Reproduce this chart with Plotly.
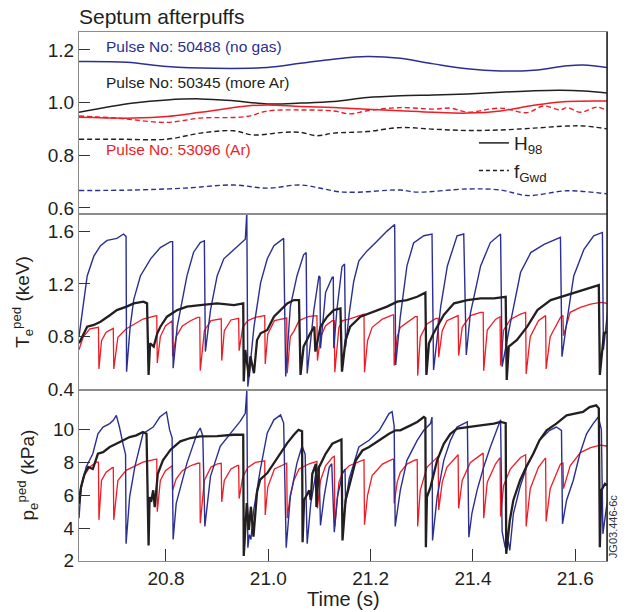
import plotly.graph_objects as go

# ---------------- data ----------------
# Top panel: H98 (solid) and fGwd (dashed) for three pulses
h98_50488 = [(20.630, 1.156), (20.724, 1.153), (20.802, 1.137), (20.893, 1.130), (20.998, 1.133),
             (21.063, 1.149), (21.127, 1.165), (21.193, 1.175), (21.258, 1.168), (21.323, 1.147),
             (21.389, 1.128), (21.454, 1.120), (21.519, 1.123), (21.584, 1.140), (21.616, 1.143),
             (21.663, 1.133)]
h98_50345 = [(20.630, 0.963), (20.737, 0.998), (20.802, 1.010), (20.867, 1.014), (20.932, 1.007),
             (20.998, 0.995), (21.063, 0.998), (21.128, 1.004), (21.193, 1.019), (21.258, 1.026),
             (21.323, 1.029), (21.389, 1.033), (21.454, 1.039), (21.519, 1.045), (21.571, 1.047),
             (21.617, 1.044), (21.663, 1.036)]
h98_53096 = [(20.630, 0.944), (20.737, 0.941), (20.802, 0.947), (20.867, 0.963), (20.958, 0.987),
             (20.998, 0.991), (21.063, 0.985), (21.128, 0.981), (21.193, 0.975), (21.258, 0.969),
             (21.323, 0.963), (21.389, 0.960), (21.454, 0.968), (21.519, 0.990), (21.584, 1.004),
             (21.663, 1.006)]
fgwd_53096 = [(20.630, 0.949), (20.704, 0.941), (20.802, 0.925), (20.867, 0.941), (20.958, 0.947),
              (20.998, 0.968), (21.063, 0.972), (21.128, 0.968), (21.160, 0.957), (21.193, 0.969),
              (21.258, 0.981), (21.323, 0.975), (21.356, 0.979), (21.389, 0.964), (21.454, 0.979),
              (21.506, 0.962), (21.538, 0.987), (21.571, 0.972), (21.584, 0.981), (21.610, 0.963),
              (21.643, 0.983), (21.663, 0.968)]
fgwd_50345 = [(20.630, 0.861), (20.704, 0.861), (20.802, 0.861), (20.867, 0.884), (20.932, 0.893),
              (20.971, 0.877), (21.030, 0.887), (21.063, 0.887), (21.095, 0.874), (21.128, 0.884),
              (21.193, 0.890), (21.258, 0.905), (21.323, 0.899), (21.389, 0.894), (21.454, 0.896),
              (21.519, 0.903), (21.584, 0.911), (21.617, 0.911), (21.663, 0.900)]
fgwd_50488 = [(20.630, 0.666), (20.737, 0.668), (20.835, 0.675), (20.932, 0.687), (20.998, 0.675),
              (21.063, 0.687), (21.147, 0.660), (21.258, 0.668), (21.291, 0.660), (21.389, 0.672),
              (21.454, 0.668), (21.506, 0.647), (21.584, 0.665), (21.663, 0.653)]

# Middle panel: pedestal Te (keV)
te_50488 = [(20.630, 0.80), (20.639, 1.08), (20.646, 1.26), (20.659, 1.41), (20.672, 1.49), (20.685, 1.53),
            (20.704, 1.545), (20.717, 1.578), (20.722, 1.56), (20.723, 0.534),
            (20.730, 0.875), (20.737, 1.08), (20.750, 1.26), (20.770, 1.39), (20.789, 1.475), (20.809, 1.52),
            (20.813, 1.52), (20.814, 0.56),
            (20.822, 0.875), (20.841, 1.26), (20.854, 1.44), (20.867, 1.513), (20.875, 1.527), (20.877, 0.686),
            (20.887, 1.0), (20.900, 1.26), (20.913, 1.39), (20.933, 1.46), (20.955, 1.538), (20.958, 1.74),
            (20.960, 0.42), (20.962, 0.484),
            (20.972, 0.875), (20.985, 1.21), (20.998, 1.39), (21.011, 1.49), (21.030, 1.545), (21.034, 0.497),
            (21.043, 1.028), (21.056, 1.26), (21.069, 1.42), (21.074, 1.437), (21.076, 0.52),
            (21.089, 1.0), (21.099, 1.26), (21.101, 1.25), (21.102, 0.711),
            (21.112, 1.135), (21.125, 1.25), (21.127, 1.25), (21.128, 0.711),
            (21.134, 1.0), (21.144, 1.33), (21.149, 1.35), (21.151, 0.72),
            (21.158, 0.97), (21.167, 1.22), (21.177, 1.375), (21.193, 1.45), (21.210, 1.514), (21.232, 1.60),
            (21.247, 1.65), (21.249, 0.585),
            (21.258, 0.95), (21.271, 1.336), (21.284, 1.51), (21.304, 1.565), (21.320, 1.578), (21.323, 0.547),
            (21.337, 1.028), (21.350, 1.336), (21.369, 1.565), (21.382, 1.578), (21.387, 0.66),
            (21.395, 0.977), (21.415, 1.336), (21.434, 1.513), (21.454, 1.578), (21.457, 0.572),
            (21.473, 0.9), (21.493, 1.286), (21.513, 1.437), (21.539, 1.50), (21.571, 1.553), (21.574, 0.648),
            (21.584, 0.926), (21.597, 1.26), (21.617, 1.462), (21.636, 1.565), (21.653, 1.59), (21.655, 0.70),
            (21.664, 1.02)]
te_50345 = [(20.630, 0.749), (20.639, 0.825), (20.646, 0.875), (20.659, 0.888), (20.672, 0.913), (20.691, 0.964),
            (20.704, 1.001), (20.723, 1.027), (20.737, 1.052), (20.756, 1.065), (20.763, 1.052), (20.766, 0.509),
            (20.769, 0.749), (20.776, 0.724), (20.783, 0.825), (20.789, 0.875), (20.802, 0.951), (20.822, 1.001),
            (20.841, 1.027), (20.867, 1.039), (20.900, 1.052), (20.933, 1.039), (20.951, 1.052), (20.952, 0.459),
            (20.955, 0.698), (20.962, 0.496), (20.965, 0.650), (20.972, 0.522), (20.978, 0.774), (20.985, 0.825),
            (20.998, 0.850), (21.011, 0.951), (21.024, 1.001), (21.037, 1.052), (21.050, 1.077), (21.060, 1.077),
            (21.063, 0.509), (21.069, 0.724), (21.082, 0.825), (21.090, 0.875), (21.092, 0.686), (21.102, 0.875),
            (21.115, 0.951), (21.128, 1.001), (21.141, 1.014), (21.144, 0.534), (21.151, 0.774), (21.160, 0.875),
            (21.180, 0.951), (21.206, 0.989), (21.232, 1.027), (21.252, 1.065), (21.271, 1.077), (21.291, 1.102),
            (21.307, 1.133), (21.309, 0.509), (21.314, 0.749), (21.323, 0.825), (21.343, 0.964), (21.363, 1.052),
            (21.389, 1.077), (21.415, 1.090), (21.441, 1.090), (21.464, 1.102), (21.466, 0.471), (21.470, 0.724),
            (21.486, 0.774), (21.506, 0.875), (21.526, 1.001), (21.552, 1.077), (21.584, 1.115), (21.617, 1.153),
            (21.643, 1.183), (21.646, 1.191), (21.648, 0.509), (21.656, 0.825), (21.664, 0.837)]
te_53096 = [(20.630, 0.70), (20.638, 0.795), (20.651, 0.858), (20.664, 0.870), (20.668, 0.870), (20.669, 0.555),
            (20.674, 0.769), (20.683, 0.833), (20.695, 0.862), (20.697, 0.862), (20.698, 0.555),
            (20.706, 0.795), (20.722, 0.858), (20.739, 0.896), (20.755, 0.933), (20.781, 0.959), (20.782, 0.959),
            (20.783, 0.60), (20.789, 0.80), (20.799, 0.88), (20.810, 0.92), (20.812, 0.92), (20.813, 0.65),
            (20.820, 0.80), (20.832, 0.88), (20.848, 0.92), (20.862, 0.946), (20.866, 0.946), (20.867, 0.542),
            (20.875, 0.845), (20.888, 0.921), (20.901, 0.933), (20.908, 0.935), (20.909, 0.618),
            (20.914, 0.845), (20.927, 0.926), (20.940, 0.938), (20.942, 0.938), (20.943, 0.693),
            (20.950, 0.870), (20.960, 0.921), (20.975, 0.945), (20.992, 0.959), (20.993, 0.959), (20.994, 0.592),
            (20.999, 0.820), (21.012, 0.921), (21.031, 0.938), (21.036, 0.94), (21.037, 0.522),
            (21.043, 0.80), (21.050, 0.84), (21.060, 0.921), (21.080, 0.954), (21.093, 0.959), (21.095, 0.959),
            (21.096, 0.618), (21.102, 0.795), (21.112, 0.883), (21.125, 0.921), (21.129, 0.921), (21.130, 0.529),
            (21.138, 0.870), (21.145, 0.921), (21.158, 0.933), (21.184, 0.971), (21.187, 0.971), (21.188, 0.529),
            (21.194, 0.769), (21.203, 0.870), (21.223, 0.933), (21.243, 0.964), (21.245, 0.964), (21.246, 0.58),
            (21.252, 0.80), (21.258, 0.870), (21.271, 0.908), (21.287, 0.951), (21.291, 0.951), (21.292, 0.504),
            (21.297, 0.795), (21.310, 0.896), (21.328, 0.938), (21.332, 0.938), (21.333, 0.643),
            (21.340, 0.845), (21.349, 0.921), (21.369, 0.959), (21.371, 0.959), (21.372, 0.656),
            (21.379, 0.870), (21.395, 0.959), (21.415, 0.984), (21.420, 0.984), (21.421, 0.54),
            (21.428, 0.85), (21.444, 0.93), (21.453, 0.95), (21.454, 0.58),
            (21.460, 0.85), (21.473, 0.93), (21.493, 0.97), (21.503, 0.984), (21.504, 0.517),
            (21.512, 0.80), (21.528, 0.92), (21.540, 0.959), (21.542, 0.959), (21.543, 0.555),
            (21.551, 0.80), (21.571, 0.946), (21.576, 0.959), (21.577, 0.807),
            (21.590, 0.984), (21.610, 1.022), (21.630, 1.047), (21.649, 1.060), (21.663, 1.052)]

# Bottom panel: pedestal pe (kPa)
pe_50488 = [(20.630, 4.6), (20.634, 6.4), (20.644, 7.72), (20.657, 8.53), (20.667, 9.75), (20.677, 10.16),
            (20.690, 10.37), (20.697, 10.57), (20.703, 10.87), (20.709, 10.16), (20.717, 9.0), (20.721, 8.5),
            (20.722, 3.04), (20.729, 5.9), (20.739, 7.72), (20.745, 8.53), (20.755, 9.75), (20.775, 10.16),
            (20.788, 10.77), (20.801, 11.08), (20.807, 10.0), (20.812, 9.5), (20.814, 3.3),
            (20.820, 5.5), (20.841, 7.96), (20.861, 9.8), (20.867, 10.1), (20.872, 9.6), (20.876, 4.1),
            (20.887, 7.15), (20.906, 8.98), (20.932, 10.0), (20.945, 10.5), (20.955, 11.0), (20.958, 12.4),
            (20.960, 2.8), (20.963, 3.6), (20.966, 3.3), (20.971, 5.0), (20.984, 7.5), (20.998, 9.8),
            (21.011, 10.6), (21.024, 10.9), (21.030, 10.4), (21.035, 2.8),
            (21.043, 5.9), (21.056, 7.96), (21.066, 9.0), (21.072, 8.5), (21.076, 3.04),
            (21.083, 5.5), (21.093, 7.31), (21.099, 7.8), (21.102, 4.16),
            (21.109, 5.9), (21.119, 7.7), (21.124, 7.92), (21.129, 3.75),
            (21.135, 5.89), (21.145, 7.31), (21.150, 7.6), (21.151, 5.5),
            (21.158, 7.0), (21.177, 8.94), (21.197, 9.35), (21.217, 9.96), (21.229, 10.57), (21.236, 10.98),
            (21.242, 11.1), (21.246, 10.2), (21.248, 4.1),
            (21.258, 6.3), (21.271, 8.13), (21.291, 9.35), (21.304, 9.96), (21.317, 10.37), (21.320, 10.77),
            (21.321, 3.24), (21.330, 5.9), (21.343, 8.13), (21.356, 9.35), (21.369, 10.16), (21.382, 10.37),
            (21.389, 10.47), (21.392, 3.44), (21.398, 4.9), (21.408, 6.3), (21.421, 7.72), (21.434, 8.94),
            (21.450, 10.37), (21.454, 10.6), (21.457, 3.8), (21.463, 2.8), (21.469, 3.2), (21.472, 2.63),
            (21.479, 4.87), (21.492, 6.5), (21.505, 7.72), (21.518, 8.53), (21.530, 9.35), (21.550, 9.96),
            (21.563, 10.16), (21.573, 9.96), (21.575, 4.26), (21.583, 5.7), (21.596, 6.9), (21.609, 8.53),
            (21.622, 9.75), (21.635, 10.37), (21.645, 10.77), (21.651, 10.0), (21.654, 3.65), (21.661, 5.28),
            (21.664, 5.7)]
pe_50345 = [(20.630, 5.48), (20.634, 6.5), (20.641, 7.31), (20.648, 7.72), (20.657, 7.6), (20.667, 8.53),
            (20.677, 8.63), (20.690, 8.94), (20.703, 9.14), (20.716, 9.35), (20.729, 9.55), (20.742, 9.65),
            (20.755, 9.86), (20.762, 9.75), (20.766, 2.94), (20.768, 5.89), (20.771, 5.6), (20.775, 6.3),
            (20.778, 5.28), (20.784, 7.31), (20.794, 8.13), (20.809, 8.78), (20.828, 9.29), (20.848, 9.49),
            (20.867, 9.59), (20.900, 9.6), (20.932, 9.69), (20.951, 9.69), (20.952, 2.3), (20.958, 5.52),
            (20.962, 3.89), (20.966, 5.3), (20.971, 3.48), (20.978, 6.2), (20.984, 6.95), (20.998, 7.35),
            (21.011, 7.96), (21.024, 8.57), (21.037, 9.18), (21.050, 9.69), (21.059, 9.99), (21.066, 9.9),
            (21.067, 3.14), (21.070, 5.7), (21.080, 6.3), (21.083, 5.7), (21.086, 7.31), (21.093, 7.92),
            (21.094, 5.28), (21.099, 7.7), (21.112, 8.53), (21.125, 9.14), (21.138, 9.35), (21.143, 9.4),
            (21.145, 3.24), (21.151, 5.7), (21.161, 6.9), (21.171, 8.13), (21.184, 8.73), (21.197, 8.94),
            (21.217, 9.35), (21.236, 9.75), (21.249, 9.96), (21.258, 9.96), (21.278, 10.26), (21.291, 10.47),
            (21.304, 10.77), (21.307, 10.7), (21.308, 2.83), (21.310, 5.89), (21.317, 6.5), (21.330, 8.13),
            (21.343, 9.14), (21.356, 9.75), (21.369, 10.06), (21.389, 10.16), (21.415, 10.26), (21.441, 10.37),
            (21.454, 10.47), (21.464, 10.4), (21.465, 2.43), (21.472, 4.46), (21.479, 5.7), (21.492, 6.9),
            (21.504, 7.72), (21.518, 8.53), (21.530, 9.35), (21.544, 9.96), (21.563, 10.37), (21.583, 10.87),
            (21.596, 10.97), (21.615, 11.08), (21.628, 11.38), (21.641, 11.48), (21.646, 11.3), (21.648, 2.83),
            (21.651, 6.3), (21.658, 6.7), (21.664, 6.6)]
pe_53096 = [(20.630, 5.99), (20.638, 7.1), (20.651, 7.72), (20.664, 8.02), (20.668, 8.02), (20.669, 4.50),
            (20.674, 6.9), (20.683, 7.41), (20.695, 7.68), (20.697, 7.68), (20.698, 4.50),
            (20.706, 6.9), (20.722, 7.52), (20.739, 7.8), (20.755, 8.02), (20.781, 8.2), (20.782, 8.2),
            (20.783, 5.0), (20.789, 6.9), (20.799, 7.5), (20.810, 7.8), (20.812, 7.8), (20.813, 6.3),
            (20.820, 7.0), (20.832, 7.5), (20.848, 7.8), (20.862, 7.95), (20.866, 7.95), (20.867, 4.3),
            (20.875, 6.9), (20.888, 7.72), (20.901, 7.92), (20.908, 7.95), (20.909, 5.6),
            (20.914, 6.9), (20.927, 7.6), (20.940, 7.82), (20.942, 7.82), (20.943, 5.8),
            (20.950, 7.1), (20.960, 7.7), (20.975, 8.0), (20.992, 8.1), (20.993, 8.1), (20.994, 4.8),
            (20.999, 6.5), (21.012, 7.6), (21.031, 7.9), (21.036, 7.95), (21.037, 4.6),
            (21.043, 6.0), (21.050, 6.9), (21.060, 7.6), (21.080, 7.92), (21.093, 8.07), (21.095, 8.07),
            (21.096, 5.2), (21.102, 6.9), (21.112, 7.8), (21.125, 8.3), (21.129, 8.37), (21.130, 4.1),
            (21.138, 6.8), (21.145, 7.4), (21.158, 7.8), (21.184, 8.1), (21.187, 8.17), (21.188, 4.2),
            (21.194, 6.0), (21.203, 7.2), (21.223, 7.9), (21.243, 8.2), (21.245, 8.2), (21.246, 5.5),
            (21.252, 6.8), (21.258, 7.4), (21.271, 7.9), (21.287, 8.15), (21.291, 8.17), (21.292, 4.1),
            (21.297, 6.3), (21.310, 7.7), (21.328, 8.2), (21.332, 8.37), (21.333, 5.1),
            (21.340, 6.8), (21.349, 7.7), (21.369, 8.4), (21.371, 8.47), (21.372, 5.2),
            (21.379, 6.9), (21.395, 8.0), (21.415, 8.5), (21.420, 8.57), (21.421, 4.6),
            (21.428, 6.8), (21.444, 7.9), (21.453, 8.3), (21.454, 4.7),
            (21.460, 6.6), (21.473, 7.6), (21.493, 8.3), (21.503, 8.47), (21.504, 4.1),
            (21.512, 6.4), (21.528, 7.7), (21.540, 8.2), (21.542, 8.27), (21.543, 4.4),
            (21.551, 6.4), (21.571, 7.9), (21.576, 7.96), (21.577, 6.4),
            (21.590, 7.8), (21.610, 8.6), (21.630, 8.9), (21.649, 9.05), (21.663, 9.0)]

x_ticks = [20.8, 21.0, 21.2, 21.4, 21.6]
y_ticks_top = [0.6, 0.8, 1.0, 1.2]
y_ticks_te = [0.4, 0.8, 1.2, 1.6]
y_ticks_pe = [2, 4, 6, 8, 10]

BLUE = '#2b2f92'
RED = '#ee1c25'
BLACK = '#231f20'
FRAME = '#8c8c8c'

fig = go.Figure()


def add(pairs, color, width, xa, ya, dash='solid', shape='linear'):
    xs = [p[0] for p in pairs]
    ys = [p[1] for p in pairs]
    fig.add_trace(go.Scatter(x=xs, y=ys, mode='lines', xaxis=xa, yaxis=ya,
                             line=dict(color=color, width=width, dash=dash, shape=shape),
                             showlegend=False, hoverinfo='skip'))


DASH = '5px,3px'
# top panel
add(fgwd_50488, BLUE, 1.4, 'x3', 'y3', DASH, 'spline')
add(fgwd_50345, BLACK, 1.4, 'x3', 'y3', DASH, 'spline')
add(fgwd_53096, RED, 1.4, 'x3', 'y3', DASH, 'spline')
add(h98_50488, BLUE, 1.5, 'x3', 'y3', 'solid', 'spline')
add(h98_50345, BLACK, 1.5, 'x3', 'y3', 'solid', 'spline')
add(h98_53096, RED, 1.5, 'x3', 'y3', 'solid', 'spline')
# middle panel
add(te_53096, RED, 1.3, 'x2', 'y2')
add(te_50488, BLUE, 1.4, 'x2', 'y2')
add(te_50345, BLACK, 2.3, 'x2', 'y2')
# bottom panel
add(pe_53096, RED, 1.3, 'x', 'y')
add(pe_50488, BLUE, 1.4, 'x', 'y')
add(pe_50345, BLACK, 2.3, 'x', 'y')

# legend entries
fig.add_trace(go.Scatter(x=[None], y=[None], mode='lines', xaxis='x3', yaxis='y3',
                         line=dict(color=BLACK, width=1.5), name='H<sub>98</sub>'))
fig.add_trace(go.Scatter(x=[None], y=[None], mode='lines', xaxis='x3', yaxis='y3',
                         line=dict(color=BLACK, width=1.5, dash='4px,3px'), name='f<sub>Gwd</sub>'))

XR = [20.63, 21.662]
common = dict(showline=True, mirror=True, linecolor=FRAME, linewidth=1, showgrid=False,
              zeroline=False, tickcolor='#333333', tickwidth=1)
fig.update_layout(
    width=627, height=612,
    margin=dict(l=79, r=20, t=32, b=51),
    paper_bgcolor='white', plot_bgcolor='white',
    font=dict(family='Liberation Sans, Arial, sans-serif', size=19, color=BLACK),
    xaxis=dict(anchor='y', domain=[0, 1], range=XR, tickvals=x_ticks, tickformat='.1f',
               ticks='inside', ticklen=12, **common),
    xaxis2=dict(anchor='y2', domain=[0, 1], range=XR, showticklabels=False, ticks='', **common),
    xaxis3=dict(anchor='y3', domain=[0, 1], range=XR, showticklabels=False, ticks='', **common),
    yaxis=dict(anchor='x', domain=[0, 0.3233], range=[1.99, 12.42], tickvals=y_ticks_pe,
               ticks='inside', ticklen=11, **common),
    yaxis2=dict(anchor='x2', domain=[0.3233, 0.656], range=[0.395, 1.73], tickvals=y_ticks_te,
                tickformat='.1f', ticks='inside', ticklen=11, **common),
    yaxis3=dict(anchor='x3', domain=[0.656, 1], range=[0.577, 1.268], tickvals=y_ticks_top,
                tickformat='.1f', ticks='inside', ticklen=11, **common),
    showlegend=True,
    legend=dict(x=0.748, y=0.826, xanchor='left', yanchor='top', bgcolor='rgba(0,0,0,0)',
                font=dict(size=19, color=BLACK), itemwidth=30, tracegroupgap=0),
    shapes=[dict(type='line', xref='paper', yref='paper', x0=1, x1=1, y0=0, y1=1,
                 line=dict(color=BLACK, width=1.5))],
    annotations=[
        dict(text='Septum afterpuffs', xref='paper', yref='paper', x=0, y=1, xanchor='left',
             yanchor='bottom', xshift=-2, yshift=2, showarrow=False, font=dict(size=21, color=BLACK)),
        dict(text='Pulse No: 50488 (no gas)', xref='x3', yref='y3', x=20.679, y=1.2125,
             xanchor='left', yanchor='middle', showarrow=False, font=dict(size=15.5, color=BLUE)),
        dict(text='Pulse No: 50345 (more Ar)', xref='x3', yref='y3', x=20.679, y=1.0758,
             xanchor='left', yanchor='middle', showarrow=False, font=dict(size=15.5, color=BLACK)),
        dict(text='Pulse No: 53096 (Ar)', xref='x3', yref='y3', x=20.679, y=0.8202,
             xanchor='left', yanchor='middle', showarrow=False, font=dict(size=15.5, color=RED)),
        dict(text='T<sub>e</sub><sup>ped</sup> (keV)', xref='paper', yref='paper', x=0, y=0.4897,
             xanchor='center', yanchor='middle', xshift=-56, textangle=-90, showarrow=False,
             font=dict(size=19, color=BLACK)),
        dict(text='p<sub>e</sub><sup>ped</sup> (kPa)', xref='paper', yref='paper', x=0, y=0.1617,
             xanchor='center', yanchor='middle', xshift=-52, textangle=-90, showarrow=False,
             font=dict(size=19, color=BLACK)),
        dict(text='Time (s)', xref='paper', yref='paper', x=0.5, y=0, xanchor='center',
             yanchor='top', yshift=-25, showarrow=False, font=dict(size=20, color=BLACK)),
        dict(text='JG03.446-6c', xref='paper', yref='paper', x=1, y=0.064, xanchor='center',
             yanchor='middle', xshift=6, textangle=-90, showarrow=False,
             font=dict(size=11, color='#333333')),
    ],
)

fig.write_html('out.html', config={'displayModeBar': False},
               post_script="document.body.style.margin='0px';")
